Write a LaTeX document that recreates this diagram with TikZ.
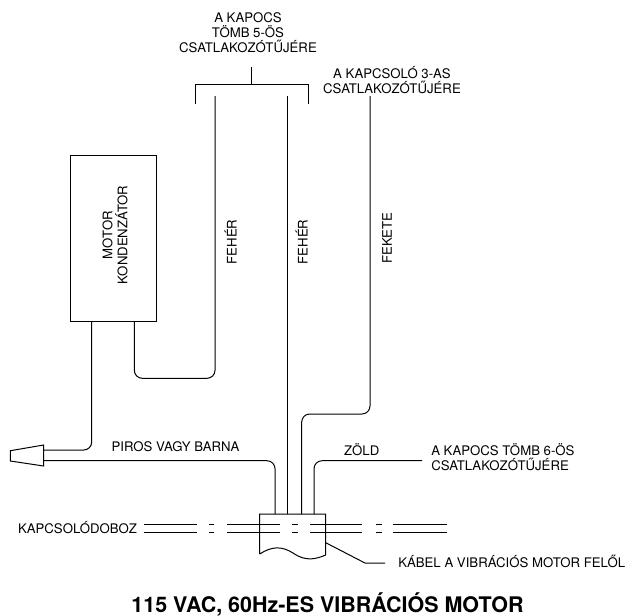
\documentclass[tikz,border=0pt]{standalone}
\usepackage{fontspec}
\setmainfont{TeX Gyre Heros}
\usetikzlibrary{positioning}

\begin{document}
\begin{tikzpicture}[x=0.75pt,y=-0.75pt]
        \tikzstyle{every node}=[font=\fontsize{9.9}{11.25}\selectfont,inner sep=0pt,align=center]
        \tikzstyle{wire}=[line width=0.75pt,rounded corners=6pt]
        \tikzstyle{plain}=[line width=0.75pt]
        \useasboundingbox (0,0) rectangle (627,615);

        %%% Capacitor
        \node[draw,plain,minimum width=64.2pt,minimum height=124.5pt] (cap) at (113.3,238) {};
        \node[rotate=90] (caplabel) at (115,235) {MOTOR\\KONDENZ\'ATOR};
        \coordinate (capl) at (91.7,321);
        \coordinate (capr) at (134.3,321);

        %%% Plug
        \coordinate (plugin) at (43.7,450);
        \coordinate (plugout) at (43.7,460.7);
        \draw[plain] (43.7,445) -- (43.7,466) -- (10.3,461) -- (10.3,450.7) -- cycle;

        %%% Upper ends
        \coordinate (fehera) at (215,96);
        \coordinate (feherb) at (287,96);
        \coordinate (fekete) at (370,96);
        \coordinate (stemtop) at (251.7,66.7);
        \coordinate (stembot) at (251.7,84.3);

        %%% Junction box
        \draw[plain] (259.7,554) -- (259.7,514) -- (325.7,514) -- (325.7,555)
            .. controls (316,559) and (306,562) .. (293,553)
            .. controls (282,546) and (272,546) .. (259.7,554);
        \coordinate (boxa) at (275,514);
        \coordinate (boxb) at (287,514);
        \coordinate (boxc) at (301.7,514);
        \coordinate (boxd) at (314,514);
        \coordinate (boxe) at (325.7,542.7);

        %%% Wires
        \draw[wire] (capl) -- (91.7,450) -- (plugin);
        \draw[wire] (plugout) -- (275,460.7) -- (boxa);
        \draw[wire] (capr) -- (134.3,378.3) -- (215,378.3) -- (fehera);
        \draw[wire] (feherb) -- (boxb);
        \draw[wire] (fekete) -- (370,414) -- (301.7,414) -- (boxc);
        \coordinate (zold) at (422,460.7);
        \draw[wire] (boxd) -- (314,460.7) -- (zold);

        %%% Bracket
        \draw[plain] (stemtop) -- (stembot);
        \draw[plain] (195.7,104) -- (195.7,84.3) -- (308,84.3) -- (308,104);

        %%% Conduit
        \foreach \y in {524,532} {
            \draw[plain] (144,\y) -- (196.7,\y);
            \draw[plain] (209,\y) -- (214.3,\y);
            \draw[plain] (227,\y) -- (280,\y);
            \draw[plain] (291.7,\y) -- (297.7,\y);
            \draw[plain] (310.3,\y) -- (362,\y);
            \draw[plain] (375.7,\y) -- (381.7,\y);
            \draw[plain] (393.3,\y) -- (446.7,\y);
        }

        %%% Leader
        \coordinate (leader) at (385,563);
        \draw[plain] (boxe) -- (365,563) -- (leader);

        %%% Labels
        \node (kapocsfive) at (248,32.5) {A KAPOCS\\T\"OMB 5-\"OS\\CSATLAKOZ\'OT\H{U}J\'ERE};
        \node (kapcsolo) at (392,80.5) {A KAPCSOL\'O 3-AS\\CSATLAKOZ\'OT\H{U}J\'ERE};
        \node[rotate=90] (feheralabel) at (230.5,242) {FEH\'ER};
        \node[rotate=90] (feherblabel) at (301.5,242) {FEH\'ER};
        \node[rotate=90] (feketelabel) at (387,238) {FEKETE};
        \node (piros) at (175.5,447) {PIROS VAGY BARNA};
        \node (zoldlabel) at (361.7,450) {Z\"OLD};
        \node[anchor=west,align=left] (kapocssix) at (431,457.5) {A KAPOCS T\"OMB 6-\"OS\\CSATLAKOZ\'OT\H{U}J\'ERE};
        \node (doboz) at (77.5,528) {KAPCSOL\'ODOBOZ};
        \node[anchor=west] (kabel) at (398,561) {K\'ABEL A VIBR\'ACI\'OS MOTOR FEL\H{O}L};
        \node[font=\fontsize{16.1}{18}\selectfont\bfseries] (title) at (327.5,604) {115 VAC, 60Hz-ES VIBR\'ACI\'OS MOTOR};
\end{tikzpicture}
\end{document}
